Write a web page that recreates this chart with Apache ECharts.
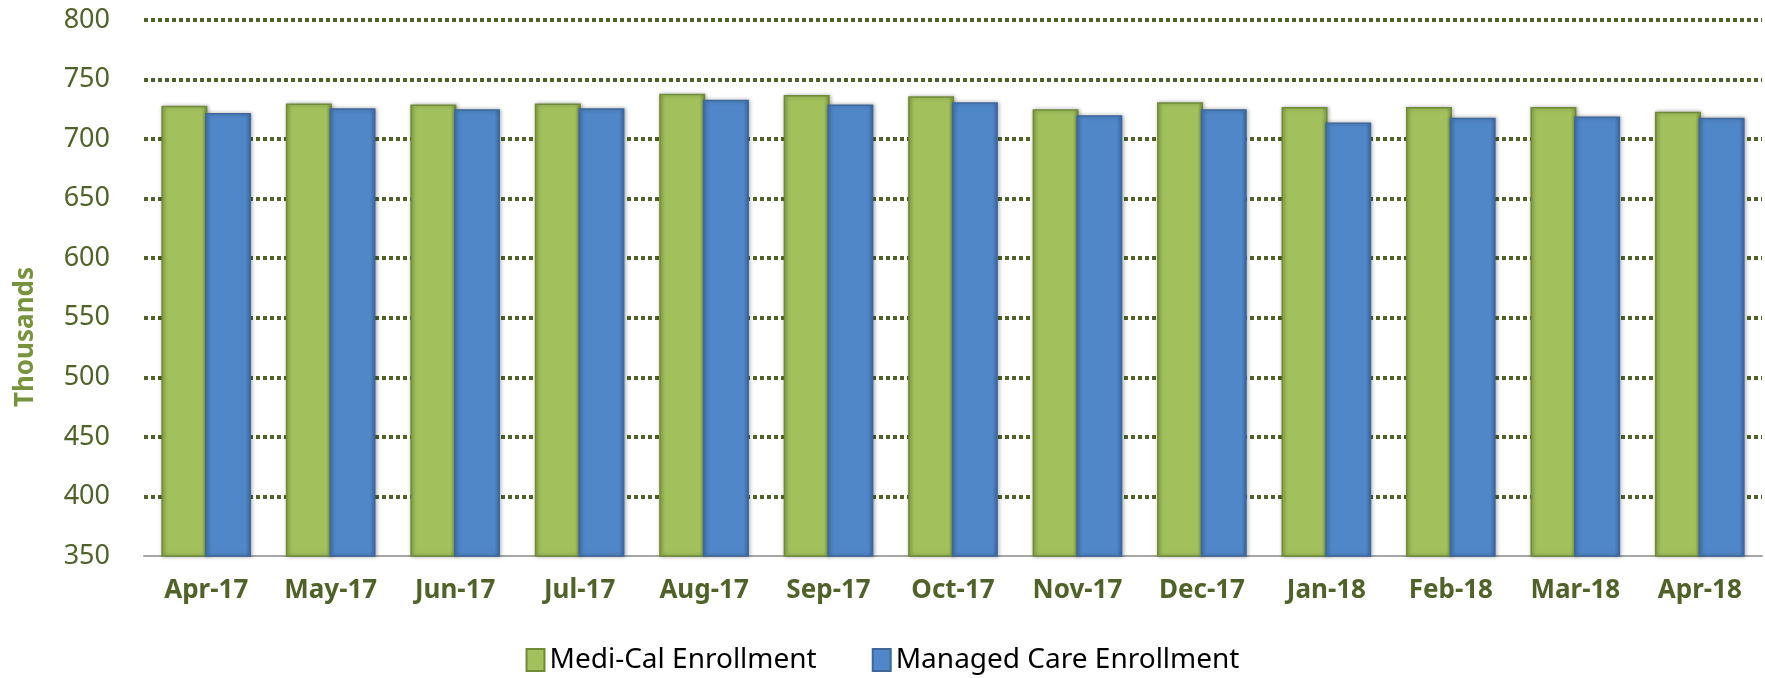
<!DOCTYPE html>
<html>
<head>
<meta charset="utf-8">
<script src="https://cdn.jsdelivr.net/npm/echarts@6/dist/echarts.min.js"></script>
<style>
  html, body { margin: 0; padding: 0; background: #fff; }
  #chart { width: 1765px; height: 678px; }
</style>
</head>
<body>
<div id="chart"></div>
<script>
const months = ["Apr-17", "May-17", "Jun-17", "Jul-17", "Aug-17", "Sep-17", "Oct-17",
  "Nov-17", "Dec-17", "Jan-18", "Feb-18", "Mar-18", "Apr-18"];
const mediCal = [728, 730, 729, 730, 738, 737, 736, 725, 731, 727, 727, 727, 723];
const managedCare = [722, 726, 725, 726, 733, 729, 731, 720, 725, 714, 718, 719, 718];

function bevel(edge, mid, dark) {
  return {
    type: "linear", x: 0, y: 0, x2: 1, y2: 0,
    colorStops: [
      { offset: 0, color: edge },
      { offset: 0.12, color: mid },
      { offset: 0.88, color: mid },
      { offset: 1, color: dark },
    ],
  };
}

const chart = echarts.init(document.getElementById("chart"));
chart.setOption({
  animation: false,
  grid: { left: 144, right: 3, top: 20, bottom: 122 },
  legend: {
    data: ["Medi-Cal Enrollment", "Managed Care Enrollment"],
    left: "center",
    top: 641,
    icon: "rect",
    itemWidth: 18,
    itemHeight: 22,
    itemGap: 55,
    textStyle: { fontFamily: "Noto Sans", fontSize: 28, color: "#000" },
  },
  graphic: [
    {
      type: "text",
      x: 26,
      y: 337,
      rotation: Math.PI / 2,
      style: {
        text: "Thousands",
        fill: "#77933C",
        font: "bold 26px 'Noto Sans'",
        textAlign: "center",
        textVerticalAlign: "middle",
      },
    },
  ],
  xAxis: {
    type: "category",
    data: months,
    axisLine: { lineStyle: { color: "#A6A6A6", width: 2 } },
    axisTick: { show: false },
    axisLabel: {
      interval: 0,
      margin: 22,
      color: "#4F6228",
      fontFamily: "Noto Sans",
      fontWeight: "bold",
      fontSize: 26,
    },
  },
  yAxis: {
    type: "value",
    min: 350,
    max: 800,
    interval: 50,
    axisLine: { show: false },
    axisTick: { show: false },
    axisLabel: {
      margin: 34,
      color: "#4F6228",
      fontFamily: "Noto Sans",
      fontSize: 27,
    },
    splitLine: {
      showMinLine: false,
      lineStyle: { color: "#4F6228", width: 4, type: [4, 3] },
    },
  },
  series: [
    {
      name: "Medi-Cal Enrollment",
      type: "bar",
      data: mediCal,
      barWidth: 46,
      barGap: "-5%",
      itemStyle: {
        color: bevel("#8AAA47", "#A2C15D", "#7E9C3E"),
        borderColor: "#6F8B38",
        borderWidth: 1.5,
        shadowBlur: 4,
        shadowColor: "rgba(0,0,0,0.3)",
        shadowOffsetX: 1,
      },
    },
    {
      name: "Managed Care Enrollment",
      type: "bar",
      data: managedCare,
      barWidth: 46,
      itemStyle: {
        color: bevel("#4276B5", "#5087C8", "#3C6CA8"),
        borderColor: "#3E679C",
        borderWidth: 1.5,
        shadowBlur: 4,
        shadowColor: "rgba(0,0,0,0.3)",
        shadowOffsetX: 1,
      },
    },
  ],
});
</script>
</body>
</html>
